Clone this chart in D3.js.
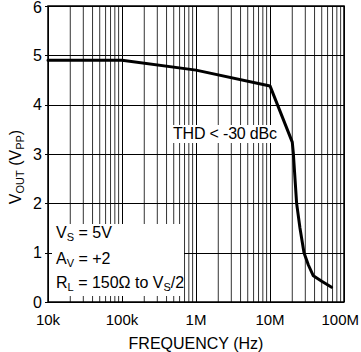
<!DOCTYPE html>
<html>
<head>
<meta charset="utf-8">
<script src="https://cdn.jsdelivr.net/npm/d3@7"></script>
<style>
  html, body { margin: 0; padding: 0; background: #fff; }
  svg { display: block; font-family: "Liberation Sans", Arial, sans-serif; }
</style>
</head>
<body>
<svg id="chart" width="361" height="352"></svg>
<script>
// Data
const freqHz = [1e4, 1e5, 1e6, 1e7, 2e7, 2.07e7, 2.29e7, 2.54e7, 2.88e7, 3.3e7, 3.85e7, 5e7, 6.8e7];
const voutPP = [4.9, 4.9, 4.7, 4.38, 3.24, 3.0, 2.0, 1.5, 1.0, 0.75, 0.53, 0.42, 0.3];
const xTickValues = [1e4, 1e5, 1e6, 1e7, 1e8];
const xTickLabels = ["10k", "100k", "1M", "10M", "100M"];
const yTickValues = [0, 1, 2, 3, 4, 5, 6];

const svg = d3.select("#chart");
const m = { left: 48, right: 344, top: 6, bottom: 302 };

const x = d3.scaleLog().domain([1e4, 1e8]).range([m.left, m.right]);
const y = d3.scaleLinear().domain([0, 6]).range([m.bottom, m.top]);

// Minor vertical grid
const minor = [];
for (let d = 1e4; d < 1e8; d *= 10) {
  for (let k = 2; k <= 9; k++) minor.push(d * k);
}
svg.append("g").selectAll("line").data(minor).join("line")
  .attr("x1", d => x(d)).attr("x2", d => x(d))
  .attr("y1", m.top).attr("y2", m.bottom)
  .attr("stroke", "#333").attr("stroke-width", 1);

// Major vertical grid
svg.append("g").selectAll("line").data(xTickValues).join("line")
  .attr("x1", d => Math.round(x(d)) + 0.5).attr("x2", d => Math.round(x(d)) + 0.5)
  .attr("y1", m.top).attr("y2", m.bottom)
  .attr("stroke", "#000").attr("stroke-width", 1);

// Horizontal grid
svg.append("g").selectAll("line").data(yTickValues).join("line")
  .attr("x1", m.left).attr("x2", m.right)
  .attr("y1", d => Math.round(y(d)) + 0.5).attr("y2", d => Math.round(y(d)) + 0.5)
  .attr("stroke", "#000").attr("stroke-width", 1);

// White label boxes (hide grid behind text)
svg.append("rect").attr("x", 172).attr("y", 125).attr("width", 107).attr("height", 18).attr("fill", "#fff");
svg.append("rect").attr("x", m.left + 1).attr("y", 224).attr("width", 135).attr("height", 72).attr("fill", "#fff");

// Frame
svg.append("rect").attr("x", m.left).attr("y", m.top)
  .attr("width", m.right - m.left).attr("height", m.bottom - m.top)
  .attr("fill", "none").attr("stroke", "#000").attr("stroke-width", 1.5);

// Short y ticks
svg.append("g").selectAll("line").data(yTickValues).join("line")
  .attr("x1", m.left - 3).attr("x2", m.left + 4)
  .attr("y1", d => Math.round(y(d)) + 0.5).attr("y2", d => Math.round(y(d)) + 0.5)
  .attr("stroke", "#000").attr("stroke-width", 1);

// Data line
const line = d3.line().x((d, i) => x(freqHz[i])).y(d => y(d)).curve(d3.curveLinear);
svg.append("path").datum(voutPP)
  .attr("d", line)
  .attr("fill", "none").attr("stroke", "#000").attr("stroke-width", 3)
  .attr("stroke-linejoin", "round").attr("stroke-linecap", "round");

// Axis labels
svg.append("g").selectAll("text").data(yTickValues).join("text")
  .attr("x", 42).attr("y", d => Math.max(y(d), 7.5)).attr("dy", "0.36em")
  .attr("text-anchor", "end").attr("font-size", 16).text(d => d);

svg.append("g").selectAll("text").data(xTickValues).join("text")
  .attr("x", (d, i) => i === xTickValues.length - 1 ? 359 : x(d)).attr("y", 325)
  .attr("text-anchor", (d, i) => i === xTickValues.length - 1 ? "end" : "middle")
  .attr("font-size", 15).text((d, i) => xTickLabels[i]);

svg.append("text").attr("x", (m.left + m.right) / 2).attr("y", 349)
  .attr("text-anchor", "middle").attr("font-size", 16).text("FREQUENCY (Hz)");

// Y title with subscripts
const yt = svg.append("text")
  .attr("transform", `translate(21,167) rotate(-90)`)
  .attr("text-anchor", "middle").attr("font-size", 16);
yt.append("tspan").text("V");
yt.append("tspan").attr("font-size", 11).attr("dy", 3).text("OUT");
yt.append("tspan").attr("dy", -3).text(" (V");
yt.append("tspan").attr("font-size", 11).attr("dy", 3).text("PP");
yt.append("tspan").attr("dy", -3).text(")");

// THD annotation
svg.append("text").attr("x", 173).attr("y", 139).attr("font-size", 16).attr("textLength", 104).text("THD < -30 dBc");

// Conditions annotation
function sub(t, parts) {
  parts.forEach(p => {
    if (p.s) t.append("tspan").attr("font-size", 11).attr("dy", 3).text(p.s);
    else t.append("tspan").attr("dy", p.up ? -3 : 0).text(p.t);
  });
}
const t1 = svg.append("text").attr("x", 56).attr("y", 238).attr("font-size", 16);
sub(t1, [{ t: "V" }, { s: "S" }, { t: " = 5V", up: true }]);
const t2 = svg.append("text").attr("x", 56).attr("y", 264).attr("font-size", 16);
sub(t2, [{ t: "A" }, { s: "V" }, { t: " = +2", up: true }]);
const t3 = svg.append("text").attr("x", 56).attr("y", 288).attr("font-size", 16);
sub(t3, [{ t: "R" }, { s: "L" }, { t: " = 150Ω to V", up: true }, { s: "S" }, { t: "/2", up: true }]);
</script>
</body>
</html>
